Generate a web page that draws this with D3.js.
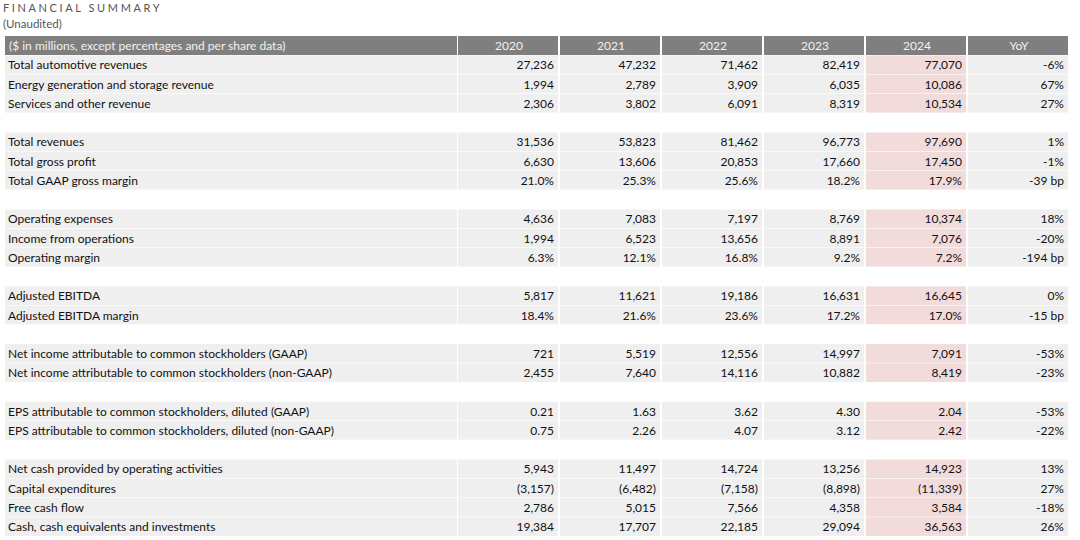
<!DOCTYPE html>
<html><head><meta charset="utf-8">
<script src="https://cdn.jsdelivr.net/npm/d3@7"></script>
<style>body{margin:0;background:#fff}</style>
</head><body>
<svg id="chart" width="1080" height="540"></svg>
<script>
const years = ['2020', '2021', '2022', '2023', '2024', 'YoY'];
// null label = blank spacer row
const labels = [
  'Total automotive revenues', 'Energy generation and storage revenue', 'Services and other revenue', null,
  'Total revenues', 'Total gross profit', 'Total GAAP gross margin', null,
  'Operating expenses', 'Income from operations', 'Operating margin', null,
  'Adjusted EBITDA', 'Adjusted EBITDA margin', null,
  'Net income attributable to common stockholders (GAAP)', 'Net income attributable to common stockholders (non-GAAP)', null,
  'EPS attributable to common stockholders, diluted (GAAP)', 'EPS attributable to common stockholders, diluted (non-GAAP)', null,
  'Net cash provided by operating activities', 'Capital expenditures', 'Free cash flow', 'Cash, cash equivalents and investments'
];
const values = [
  ['27,236', '47,232', '71,462', '82,419', '77,070', '-6%'],
  ['1,994', '2,789', '3,909', '6,035', '10,086', '67%'],
  ['2,306', '3,802', '6,091', '8,319', '10,534', '27%'],
  null,
  ['31,536', '53,823', '81,462', '96,773', '97,690', '1%'],
  ['6,630', '13,606', '20,853', '17,660', '17,450', '-1%'],
  ['21.0%', '25.3%', '25.6%', '18.2%', '17.9%', '-39 bp'],
  null,
  ['4,636', '7,083', '7,197', '8,769', '10,374', '18%'],
  ['1,994', '6,523', '13,656', '8,891', '7,076', '-20%'],
  ['6.3%', '12.1%', '16.8%', '9.2%', '7.2%', '-194 bp'],
  null,
  ['5,817', '11,621', '19,186', '16,631', '16,645', '0%'],
  ['18.4%', '21.6%', '23.6%', '17.2%', '17.0%', '-15 bp'],
  null,
  ['721', '5,519', '12,556', '14,997', '7,091', '-53%'],
  ['2,455', '7,640', '14,116', '10,882', '8,419', '-23%'],
  null,
  ['0.21', '1.63', '3.62', '4.30', '2.04', '-53%'],
  ['0.75', '2.26', '4.07', '3.12', '2.42', '-22%'],
  null,
  ['5,943', '11,497', '14,724', '13,256', '14,923', '13%'],
  ['(3,157)', '(6,482)', '(7,158)', '(8,898)', '(11,339)', '27%'],
  ['2,786', '5,015', '7,566', '4,358', '3,584', '-18%'],
  ['19,384', '17,707', '22,185', '29,094', '36,563', '26%']
];

const svg = d3.select('#chart');
const font = 'Lato, "Open Sans", sans-serif';
const labelW = 453, x0 = 5, colW = 102;
const x = d3.scaleBand().domain(years).range([x0 + labelW, x0 + labelW + colW * years.length]);
const y = d3.scaleBand().domain(d3.range(labels.length)).range([55.5, 536.5]);
const rowH = y.bandwidth();

svg.append('text').attr('x', 3).attr('y', 12).text('FINANCIAL SUMMARY')
  .attr('font-family', font).attr('font-size', 11).attr('letter-spacing', 2.6).attr('fill', '#555');
svg.append('text').attr('x', 3).attr('y', 28).text('(Unaudited)')
  .attr('font-family', font).attr('font-size', 11.5).attr('fill', '#555');

// header
const hy = 36, hh = 19;
svg.append('rect').attr('x', x0).attr('y', hy).attr('width', labelW - 1).attr('height', hh).attr('fill', '#7f7f7f');
svg.append('text').attr('x', x0 + 4).attr('y', hy + 13.5).text('($ in millions, except percentages and per share data)')
  .attr('font-family', font).attr('font-size', 12).attr('fill', '#f2f2f2');
years.forEach(yr => {
  svg.append('rect').attr('x', x(yr)).attr('y', hy).attr('width', x.bandwidth() - 2).attr('height', hh).attr('fill', '#7f7f7f');
  svg.append('text').attr('x', x(yr) + x.bandwidth() / 2).attr('y', hy + 13.5).text(yr)
    .attr('text-anchor', 'middle').attr('font-family', font).attr('font-size', 12).attr('fill', '#f2f2f2');
});

const rows = svg.selectAll('g.row').data(labels.map((l, i) => ({ l, v: values[i], i })).filter(d => d.l))
  .join('g').attr('class', 'row').attr('transform', d => `translate(0,${y(d.i)})`);
rows.append('rect').attr('x', x0).attr('width', labelW - 1).attr('height', rowH - 0.6).attr('fill', '#efefef');
rows.append('text').attr('x', x0 + 3).attr('y', rowH / 2 + 4.3).text(d => d.l)
  .attr('font-family', font).attr('font-size', 12).attr('fill', '#111');
years.forEach((yr, j) => {
  rows.append('rect').attr('x', x(yr)).attr('width', x.bandwidth() - 2).attr('height', rowH - 0.6)
    .attr('fill', yr === '2024' ? '#f2dcdb' : '#efefef');
  rows.append('text').attr('x', x(yr) + x.bandwidth() - 6).attr('y', rowH / 2 + 4.3).text(d => d.v[j])
    .attr('text-anchor', 'end').attr('font-family', font).attr('font-size', 12).attr('fill', '#111');
});
</script>
</body></html>
